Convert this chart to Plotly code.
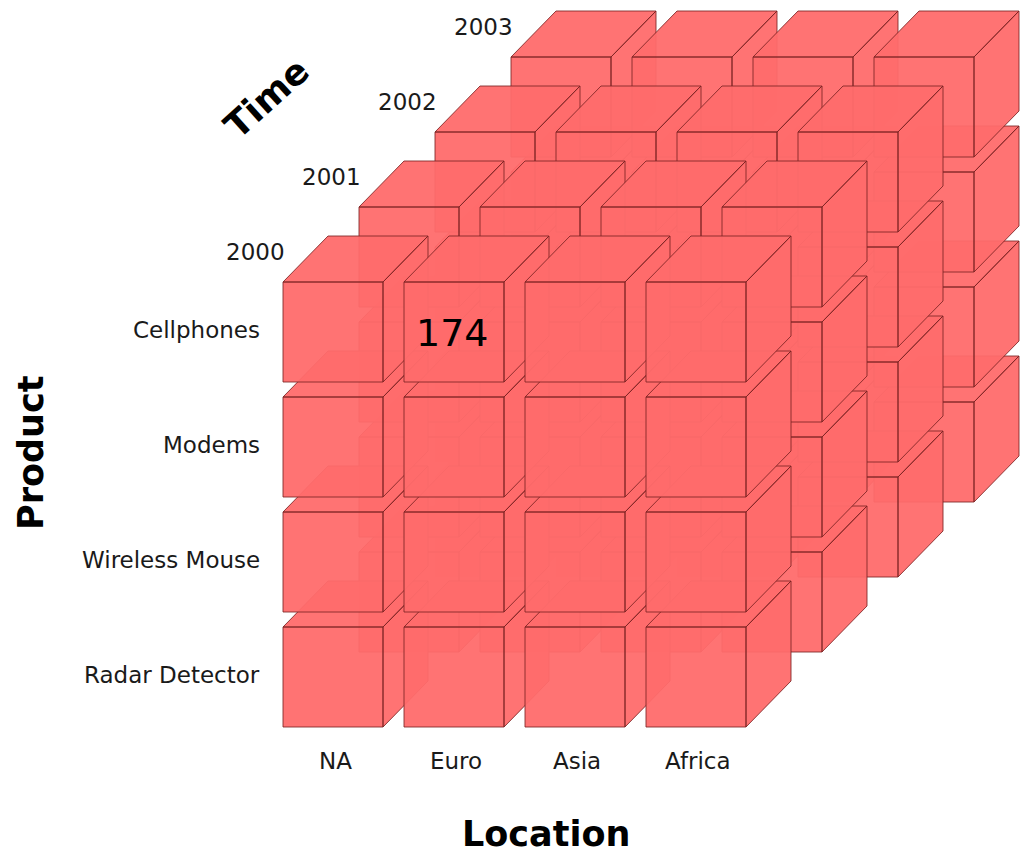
import plotly.graph_objects as go

# ---- data ----
locations = ["NA", "Euro", "Asia", "Africa"]
products = ["Cellphones", "Modems", "Wireless Mouse", "Radar Detector"]
years = ["2000", "2001", "2002", "2003"]
cell_values = [("2000", "Cellphones", "Euro", 174)]

axis_titles = {"location": "Location", "product": "Product", "time": "Time"}

# ---- geometry (style constants, pixel space) ----
X0, Y0 = 283, 282          # front-left-top of first cube, front layer
COL_P, ROW_P = 121, 115    # pitch between columns / rows
LAY_DX, LAY_DY = 76, -75   # pitch between time layers
W, H = 100, 100            # cube face size
DX, DY = 45, -46           # oblique depth of a cube

FILL = "rgba(255,108,108,0.95)"
EDGE = "rgba(125,35,35,0.85)"
FONT = "DejaVu Sans"


def corner(l, r, c):
    return X0 + c * COL_P + l * LAY_DX, Y0 + r * ROW_P + l * LAY_DY


fig = go.Figure()

for l in reversed(range(len(years))):
    for r in reversed(range(len(products))):
        for c in range(len(locations)):
            fx, fy = corner(l, r, c)
            top = [(fx, fy), (fx + DX, fy + DY), (fx + W + DX, fy + DY), (fx + W, fy), (fx, fy)]
            right = [(fx + W, fy), (fx + W + DX, fy + DY), (fx + W + DX, fy + H + DY), (fx + W, fy + H), (fx + W, fy)]
            front = [(fx, fy), (fx + W, fy), (fx + W, fy + H), (fx, fy + H), (fx, fy)]
            xs, ys = [], []
            for face in (top, right, front):
                xs += [p[0] for p in face] + [None]
                ys += [p[1] for p in face] + [None]
            fig.add_trace(go.Scatter(
                x=xs, y=ys, mode="lines", fill="toself", fillcolor=FILL,
                line=dict(color=EDGE, width=1), hoverinfo="skip", showlegend=False,
            ))

annotations = []
# year labels
for l, yr in enumerate(years):
    fx, fy = corner(l, 0, 0)
    annotations.append(dict(x=fx + 4, y=fy - 30, text=yr, xanchor="right", yanchor="middle",
                            font=dict(family=FONT, size=23, color="#1a1a1a")))
# product labels
for r, p in enumerate(products):
    fx, fy = corner(0, r, 0)
    annotations.append(dict(x=262, y=fy + 48, text=p, xanchor="right", yanchor="middle",
                            font=dict(family=FONT, size=23, color="#1a1a1a")))
# location labels
for c, loc in enumerate(locations):
    fx, fy = corner(0, len(products) - 1, c)
    annotations.append(dict(x=fx + W / 2 + 2, y=761, text=loc, xanchor="center", yanchor="middle",
                            font=dict(family=FONT, size=23, color="#1a1a1a")))
# cell values
for yr, prod, loc, val in cell_values:
    fx, fy = corner(years.index(yr), products.index(prod), locations.index(loc))
    annotations.append(dict(x=fx + W / 2 - 2, y=fy + H / 2 + 1, text=str(val), xanchor="center",
                            yanchor="middle", font=dict(family=FONT, size=38, color="#000000")))
# axis titles
annotations.append(dict(x=546, y=834, text="<b>%s</b>" % axis_titles["location"], xanchor="center",
                        yanchor="middle", font=dict(family=FONT, size=35, color="#000000")))
annotations.append(dict(x=31, y=453, text="<b>%s</b>" % axis_titles["product"], textangle=-90,
                        xanchor="center", yanchor="middle",
                        font=dict(family=FONT, size=35, color="#000000")))
annotations.append(dict(x=266, y=98, text="<b>%s</b>" % axis_titles["time"], textangle=-42,
                        xanchor="center", yanchor="middle",
                        font=dict(family=FONT, size=36, color="#000000")))

for a in annotations:
    a.update(xref="x", yref="y", showarrow=False)

fig.update_layout(
    width=1026, height=857, autosize=False,
    margin=dict(l=0, r=0, t=0, b=0),
    paper_bgcolor="white", plot_bgcolor="white",
    xaxis=dict(range=[0, 1026], visible=False, fixedrange=True),
    yaxis=dict(range=[857, 0], visible=False, fixedrange=True),
    annotations=annotations,
    showlegend=False,
)

fig.write_html("out.html")
